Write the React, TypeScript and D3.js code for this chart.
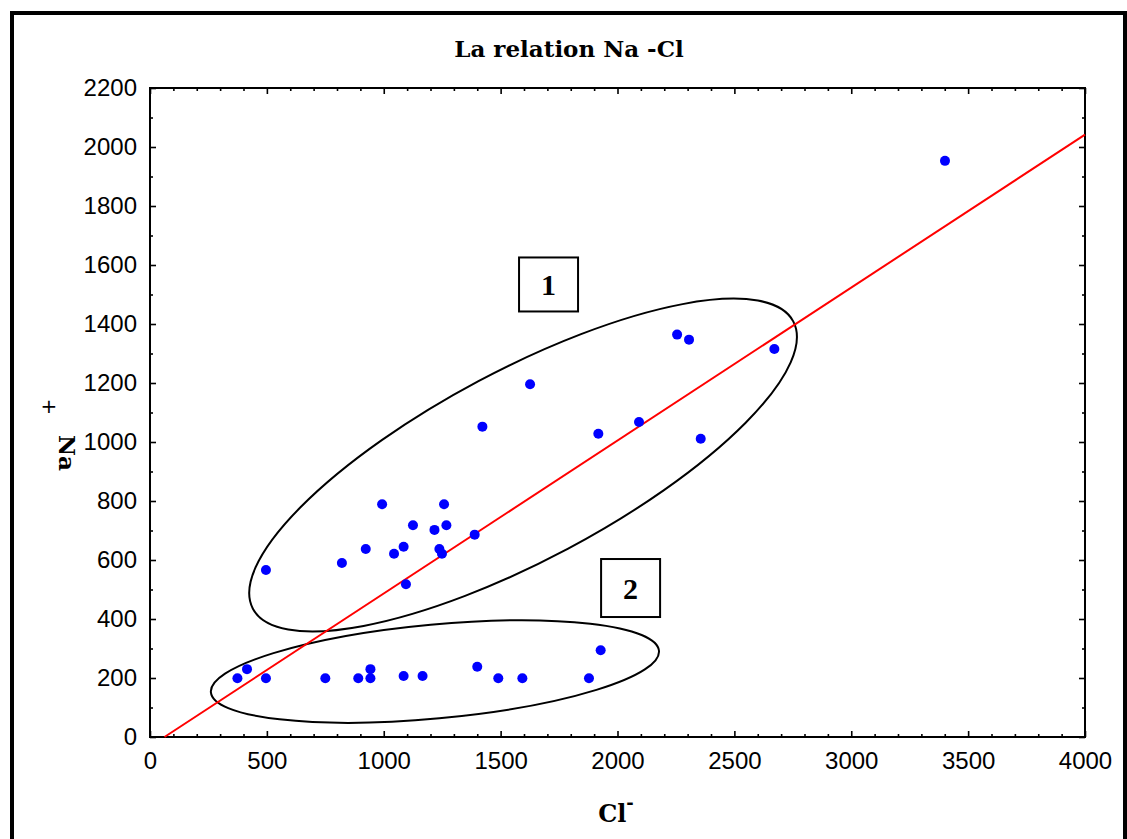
import React, { useEffect, useRef } from 'react';
import * as d3 from 'd3';

// Cl- (x) and Na+ (y) concentrations
const clValues = [
  496, 821, 923, 993, 1044, 1085, 1125, 1217, 1258, 1268, 1238, 1249, 1095, 1389,
  1626, 1422, 1918, 2092, 2356, 2255, 2306, 2671, 3401,
  374, 415, 496, 750, 891, 943, 943, 1085, 1166, 1400, 1490, 1593, 1878, 1928,
];
const naValues = [
  566, 590, 637, 789, 621, 645, 718, 702, 789, 718, 637, 621, 518, 686,
  1196, 1052, 1028, 1068, 1011, 1364, 1347, 1315, 1953,
  199, 230, 199, 199, 199, 199, 230, 207, 207, 238, 199, 199, 199, 294,
];

// fitted line end points
const fitCl = [62, 4000];
const fitNa = [0, 2042];

const xTicks = [0, 500, 1000, 1500, 2000, 2500, 3000, 3500, 4000];
const yTicks = [0, 200, 400, 600, 800, 1000, 1200, 1400, 1600, 1800, 2000, 2200];

// group annotations (centre in data units)
const groupLabels = ['1', '2'];
const groupCl = [1596, 1219];
const groupNa = [922, 222];
const boxCl = [1705, 2056];
const boxNa = [1534, 505];

const App = () => {
  const ref = useRef<SVGSVGElement | null>(null);

  useEffect(() => {
    const width = 1127;
    const height = 839;
    const margin = { top: 88, right: 42, bottom: 102, left: 150 };

    const svg = d3.select(ref.current);
    svg.selectAll('*').remove();

    const x = d3.scaleLinear().domain([0, 4000]).range([margin.left, width - margin.right]);
    const y = d3.scaleLinear().domain([0, 2200]).range([height - margin.bottom, margin.top]);
    const fmt = d3.format('d');

    // outer frame
    svg
      .append('rect')
      .attr('x', 12)
      .attr('y', 13)
      .attr('width', 1113)
      .attr('height', 900)
      .attr('fill', 'none')
      .attr('stroke', '#000')
      .attr('stroke-width', 4);

    // title
    svg
      .append('text')
      .attr('x', 569)
      .attr('y', 57)
      .attr('text-anchor', 'middle')
      .attr('font-family', 'DejaVu Serif')
      .attr('font-weight', 'bold')
      .attr('font-size', 23)
      .text('La relation Na -Cl');

    const xMinor = d3.range(0, 4001, 100).filter((d) => d % 500 !== 0);
    const yMinor = d3.range(0, 2201, 100).filter((d) => d % 200 !== 0);

    const tickStyle = (g: any) => {
      g.select('.domain').remove();
      g.selectAll('line').attr('stroke', '#000').attr('stroke-width', 1.6);
    };
    const labelStyle = (g: any) =>
      g.selectAll('text').attr('font-family', 'Liberation Sans, Arial').attr('font-size', 24).attr('fill', '#000');

    // bottom / top
    svg
      .append('g')
      .attr('transform', `translate(0, ${y(0)})`)
      .call(d3.axisBottom(x).tickValues(xTicks).tickSizeInner(-6).tickSizeOuter(0).tickPadding(15).tickFormat(fmt))
      .call(tickStyle)
      .call(labelStyle);
    svg
      .append('g')
      .attr('transform', `translate(0, ${y(0)})`)
      .call(d3.axisBottom(x).tickValues(xMinor).tickSizeInner(-3).tickSizeOuter(0).tickFormat(() => ''))
      .call(tickStyle);
    svg
      .append('g')
      .attr('transform', `translate(0, ${y(2200)})`)
      .call(d3.axisTop(x).tickValues(xTicks).tickSizeInner(-6).tickSizeOuter(0).tickFormat(() => ''))
      .call(tickStyle);
    svg
      .append('g')
      .attr('transform', `translate(0, ${y(2200)})`)
      .call(d3.axisTop(x).tickValues(xMinor).tickSizeInner(-3).tickSizeOuter(0).tickFormat(() => ''))
      .call(tickStyle);

    // left / right
    svg
      .append('g')
      .attr('transform', `translate(${x(0)}, 0)`)
      .call(d3.axisLeft(y).tickValues(yTicks).tickSizeInner(-6).tickSizeOuter(0).tickPadding(13).tickFormat(fmt))
      .call(tickStyle)
      .call(labelStyle);
    svg
      .append('g')
      .attr('transform', `translate(${x(0)}, 0)`)
      .call(d3.axisLeft(y).tickValues(yMinor).tickSizeInner(-3).tickSizeOuter(0).tickFormat(() => ''))
      .call(tickStyle);
    svg
      .append('g')
      .attr('transform', `translate(${x(4000)}, 0)`)
      .call(d3.axisRight(y).tickValues(yTicks).tickSizeInner(-6).tickSizeOuter(0).tickFormat(() => ''))
      .call(tickStyle);
    svg
      .append('g')
      .attr('transform', `translate(${x(4000)}, 0)`)
      .call(d3.axisRight(y).tickValues(yMinor).tickSizeInner(-3).tickSizeOuter(0).tickFormat(() => ''))
      .call(tickStyle);

    // plot frame
    svg
      .append('rect')
      .attr('x', x(0))
      .attr('y', y(2200))
      .attr('width', x(4000) - x(0))
      .attr('height', y(0) - y(2200))
      .attr('fill', 'none')
      .attr('stroke', '#000')
      .attr('stroke-width', 2);

    // group ellipses
    const ellipseRx = [306, 225];
    const ellipseRy = [95, 47];
    const ellipseAngle = [-28, -5.3];
    groupCl.forEach((c, i) => {
      svg
        .append('ellipse')
        .attr('cx', 0)
        .attr('cy', 0)
        .attr('rx', ellipseRx[i])
        .attr('ry', ellipseRy[i])
        .attr('transform', `translate(${x(c)}, ${y(groupNa[i])}) rotate(${ellipseAngle[i]})`)
        .attr('fill', 'none')
        .attr('stroke', '#000')
        .attr('stroke-width', 2);
    });

    // regression line
    svg
      .append('line')
      .attr('x1', x(fitCl[0]))
      .attr('y1', y(fitNa[0]))
      .attr('x2', x(fitCl[1]))
      .attr('y2', y(fitNa[1]))
      .attr('stroke', '#ff0000')
      .attr('stroke-width', 2);

    // points
    svg
      .append('g')
      .selectAll('circle')
      .data(clValues)
      .enter()
      .append('circle')
      .attr('cx', (d) => x(d))
      .attr('cy', (d, i) => y(naValues[i]))
      .attr('r', 5)
      .attr('fill', '#0000ff');

    // group number boxes
    const boxW = [59, 59];
    const boxH = [54, 58];
    groupLabels.forEach((label, i) => {
      const cx = x(boxCl[i]);
      const cy = y(boxNa[i]);
      svg
        .append('rect')
        .attr('x', cx - boxW[i] / 2)
        .attr('y', cy - boxH[i] / 2)
        .attr('width', boxW[i])
        .attr('height', boxH[i])
        .attr('fill', '#fff')
        .attr('stroke', '#000')
        .attr('stroke-width', 2);
      svg
        .append('text')
        .attr('x', cx)
        .attr('y', cy + 11)
        .attr('text-anchor', 'middle')
        .attr('font-family', 'Liberation Serif, Times New Roman')
        .attr('font-weight', 'bold')
        .attr('font-size', 30)
        .text(label);
    });

    // axis titles
    const xTitle = svg
      .append('text')
      .attr('x', 616)
      .attr('y', 822)
      .attr('text-anchor', 'middle')
      .attr('font-family', 'DejaVu Serif')
      .attr('font-weight', 'bold')
      .attr('font-size', 24);
    xTitle.append('tspan').text('Cl');
    xTitle.append('tspan').attr('dy', -13).attr('font-size', 18).text('-');

    svg
      .append('text')
      .attr('transform', 'translate(59, 453) rotate(90)')
      .attr('text-anchor', 'middle')
      .attr('font-family', 'DejaVu Serif')
      .attr('font-weight', 'bold')
      .attr('font-size', 23)
      .text('Na');
    svg
      .append('text')
      .attr('x', 49)
      .attr('y', 413)
      .attr('text-anchor', 'middle')
      .attr('font-family', 'DejaVu Sans')
      .attr('font-size', 20)
      .attr('fill', '#000')
      .text('+');

    return () => {
      d3.select(ref.current).selectAll('*').remove();
    };
  }, []);

  return (
    <svg
      ref={ref}
      width={1127}
      height={839}
      style={{ position: 'absolute', left: 0, top: 0, background: '#fff' }}
    />
  );
};

export default App;
